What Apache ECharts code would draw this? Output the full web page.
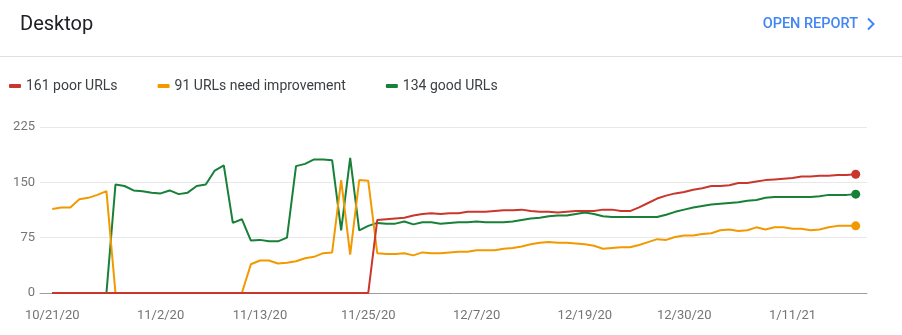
<!DOCTYPE html>
<html>
<head>
<meta charset="utf-8">
<script src="https://cdn.jsdelivr.net/npm/echarts@6/dist/echarts.min.js"></script>
<style>
html,body{margin:0;padding:0;background:#fff;}
#chart{width:902px;height:335px;}
</style>
</head>
<body>
<div id="chart"></div>
<script>
// Tick labels (day index from 10/21/20 -> label)
const tickDays = [0, 12, 23, 35, 47, 59, 70, 82];
const tickLabels = ['10/21/20', '11/2/20', '11/13/20', '11/25/20', '12/7/20', '12/19/20', '12/30/20', '1/11/21'];

const seriesNames = ['161 poor URLs', '91 URLs need improvement', '134 good URLs'];

// Daily values, 10/21/20 .. 1/18/21 (90 days)
const poor = [
  0,0,0,0,0,0,0,0,0,0,
  0,0,0,0,0,0,0,0,0,0,
  0,0,0,0,0,0,0,0,0,0,
  0,0,0,0,0,0,
  99,100,101,102,105,107,108,107,108,108,
  110,110,110,111,112,112,113,111,110,110,
  109,110,111,111,111,113,113,111,111,116,
  122,128,132,135,137,140,142,145,145,146,
  149,149,151,153,154,155,156,158,158,159,
  159,160,160,161
];
const needImprovement = [
  114,116,116,127,129,133,138,
  0,0,0,0,0,0,0,0,0,0,0,0,0,0,0,
  39,44,44,40,41,43,47,49,54,55,
  153,52,153,152,54,53,53,54,51,55,
  54,54,55,56,56,58,58,58,60,61,
  63,66,68,69,68,68,67,66,64,60,
  61,62,62,65,69,73,72,76,78,78,
  80,81,85,86,84,85,89,86,89,89,
  87,87,85,86,89,91,91,91
];
const good = [
  0,0,0,0,0,0,0,
  147,145,139,138,136,135,139,134,136,145,147,166,173,95,
  100,71,72,70,70,75,172,175,181,181,
  180,85,183,85,91,95,94,94,97,93,
  96,96,94,95,96,96,97,96,96,96,
  97,99,101,102,104,105,105,107,109,107,
  104,103,103,103,103,103,103,106,110,113,
  116,118,120,121,122,123,125,126,129,130,
  130,130,130,130,131,133,133,133,134
];

const colors = ['#c9372c', '#f29900', '#188038'];

function toPairs(arr) { return arr.map((v, i) => [i, v]); }

const chart = echarts.init(document.getElementById('chart'), null, {renderer: 'canvas'});
const FONT = 'Roboto, "Noto Sans", sans-serif';

function mkSeries(name, arr, color, z) {
  const last = arr.length - 1;
  return {
    name: name,
    type: 'line',
    data: toPairs(arr),
    z: z,
    symbol: 'circle',
    showSymbol: true,
    showAllSymbol: true,
    symbolSize: (v, p) => (p.dataIndex === last ? 9 : 0),
    lineStyle: {width: 2, color: color},
    itemStyle: {color: color},
    emphasis: {disabled: true},
    animation: false
  };
}

chart.setOption({
  animation: false,
  color: colors,
  title: {
    text: 'Desktop',
    left: 15,
    top: 10,
    textStyle: {fontFamily: FONT, fontSize: 20, fontWeight: 'normal', color: '#202124'}
  },
  legend: {
    data: seriesNames,
    left: 4,
    top: 74,
    icon: 'roundRect',
    itemWidth: 12,
    itemHeight: 4,
    itemGap: 40,
    textStyle: {fontFamily: FONT, fontSize: 14, color: '#3c4043'}
  },
  graphic: [
    {type: 'line', shape: {x1: 0, y1: 56.5, x2: 902, y2: 56.5}, style: {stroke: '#e0e0e0', lineWidth: 1}},
    {type: 'text', x: 858, y: 24, style: {text: 'OPEN REPORT', fill: '#4285f4', font: '500 14.5px Roboto', align: 'right', verticalAlign: 'middle'}},
    {type: 'polyline', shape: {points: [[868, 18.5], [873.5, 24], [868, 29.5]]}, style: {stroke: '#4285f4', lineWidth: 2, fill: null}}
  ],
  grid: {left: 40, right: 35, top: 127, height: 166, containLabel: false},
  xAxis: {
    type: 'value',
    min: -1.36,
    max: 90.25,
    axisLine: {show: true, onZero: false, lineStyle: {color: '#9e9e9e', width: 1}},
    axisTick: {show: false},
    splitLine: {show: false},
    axisLabel: {
      customValues: tickDays,
      formatter: (v) => { const k = tickDays.indexOf(Math.round(v)); return k >= 0 ? tickLabels[k] : ''; },
      margin: 16,
      fontFamily: FONT,
      fontSize: 13,
      color: '#757575'
    }
  },
  yAxis: {
    type: 'value',
    min: 0,
    max: 225,
    interval: 75,
    axisLine: {show: false},
    axisTick: {show: false},
    splitLine: {lineStyle: {color: '#e8e8e8', width: 1}},
    axisLabel: {margin: 5, fontFamily: FONT, fontSize: 13, color: '#757575'}
  },
  series: [
    mkSeries(seriesNames[0], poor, colors[0], 5),
    mkSeries(seriesNames[1], needImprovement, colors[1], 3),
    mkSeries(seriesNames[2], good, colors[2], 2)
  ]
});
</script>
</body>
</html>
